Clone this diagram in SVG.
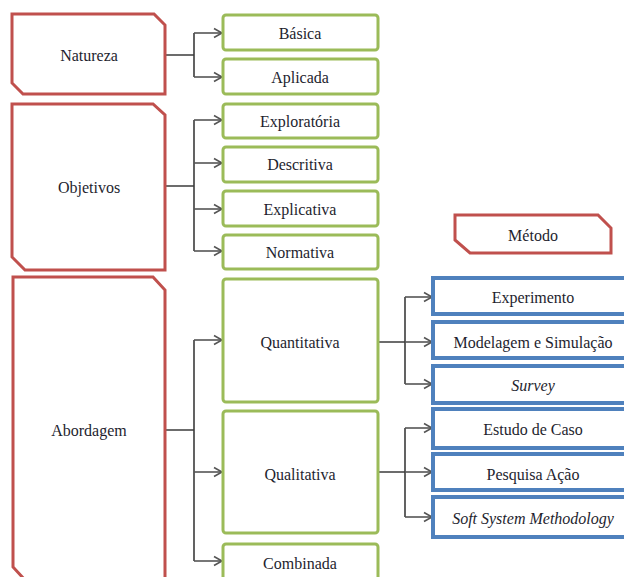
<svg xmlns="http://www.w3.org/2000/svg" width="624" height="577" viewBox="0 0 624 577">
<defs>
<marker id="ah" markerUnits="userSpaceOnUse" markerWidth="12" markerHeight="12" refX="9" refY="6" orient="auto">
<path d="M1,1.5 L9,6 L1,10.5" fill="none" stroke="#555" stroke-width="1.6"/>
</marker>
<style>
.red{fill:#fff;stroke:#c0504d;stroke-width:3;stroke-linejoin:miter}
.grn{fill:#fff;stroke:#9bbb59;stroke-width:3}
.blu{fill:#fff;stroke:#4f81bd;stroke-width:4}
.i{font-style:italic}
.c{fill:none;stroke:#3c3c3c;stroke-width:1.6}
.a{fill:none;stroke:#555;stroke-width:1.6;marker-end:url(#ah)}
</style>
</defs>
<rect width="624" height="577" fill="#fff"/>
<g id="connectors">
<path class="c" d="M165,55 H194 M194,33 V77"/>
<path class="a" d="M194,33 H222"/>
<path class="a" d="M194,77 H222"/>
<path class="c" d="M165,186 H194 M194,120 V251"/>
<path class="a" d="M194,120 H222"/>
<path class="a" d="M194,163 H222"/>
<path class="a" d="M194,209 H222"/>
<path class="a" d="M194,251 H222"/>
<path class="c" d="M165,430 H194 M194,340 V561"/>
<path class="a" d="M194,340 H222"/>
<path class="a" d="M194,472 H222"/>
<path class="a" d="M194,561 H222"/>
<path class="c" d="M377,342 H405 M405,297 V384"/>
<path class="a" d="M405,297 H432"/>
<path class="a" d="M405,342 H432"/>
<path class="a" d="M405,384 H432"/>
<path class="c" d="M377,472 H405 M405,428 V517"/>
<path class="a" d="M405,428 H432"/>
<path class="a" d="M405,472 H432"/>
<path class="a" d="M405,517 H432"/>
</g>
<g font-family="Liberation Serif, DejaVu Serif, serif" font-size="16" fill="#1e1e2e" text-anchor="middle">
<g id="natureza"><path class="red" d="M12,14 H154 L165,25 V94 H23 L12,83 Z"/><text x="89" y="61">Natureza</text></g>
<g id="objetivos"><path class="red" d="M12,104 H153 L165,115 V270 H25 L12,257 Z"/><text x="89" y="193">Objetivos</text></g>
<g id="abordagem"><path class="red" d="M13,277 H153 L165,290 V580 H25 L13,567 Z"/><text x="89" y="436">Abordagem</text></g>
<g id="metodo"><path class="red" d="M455,215 H598 L611,228 V253 H470 L455,240 Z"/><text x="533" y="241">Método</text></g>
<g id="basica"><rect class="grn" x="223" y="15" width="155" height="35" rx="3"/><text x="300" y="39">Básica</text></g>
<g id="aplicada"><rect class="grn" x="223" y="59" width="155" height="35" rx="3"/><text x="300" y="83">Aplicada</text></g>
<g id="exploratoria"><rect class="grn" x="223" y="104" width="155" height="34" rx="3"/><text x="300" y="127">Exploratória</text></g>
<g id="descritiva"><rect class="grn" x="223" y="147" width="155" height="35" rx="3"/><text x="300" y="170">Descritiva</text></g>
<g id="explicativa"><rect class="grn" x="223" y="191" width="155" height="35" rx="3"/><text x="300" y="215">Explicativa</text></g>
<g id="normativa"><rect class="grn" x="223" y="235" width="155" height="34" rx="3"/><text x="300" y="258">Normativa</text></g>
<g id="quantitativa"><rect class="grn" x="223" y="279" width="155" height="123" rx="3"/><text x="300" y="348">Quantitativa</text></g>
<g id="qualitativa"><rect class="grn" x="223" y="411" width="155" height="122" rx="3"/><text x="300" y="480">Qualitativa</text></g>
<g id="combinada"><rect class="grn" x="223" y="544" width="155" height="45" rx="3"/><text x="300" y="569">Combinada</text></g>
<g id="experimento"><rect class="blu" x="433" y="278" width="200" height="36"/><text x="533" y="303">Experimento</text></g>
<g id="modelagem"><rect class="blu" x="433" y="322" width="200" height="36"/><text x="533" y="348">Modelagem e Simulação</text></g>
<g id="survey"><rect class="blu" x="433" y="366" width="200" height="37"/><text class="i" x="533" y="391">Survey</text></g>
<g id="estudo"><rect class="blu" x="433" y="409" width="200" height="39"/><text x="533" y="435">Estudo de Caso</text></g>
<g id="pesquisa"><rect class="blu" x="433" y="454" width="200" height="36"/><text x="533" y="480">Pesquisa Ação</text></g>
<g id="soft"><rect class="blu" x="433" y="497" width="200" height="40"/><text class="i" x="533" y="524">Soft System Methodology</text></g>
</g>
</svg>
